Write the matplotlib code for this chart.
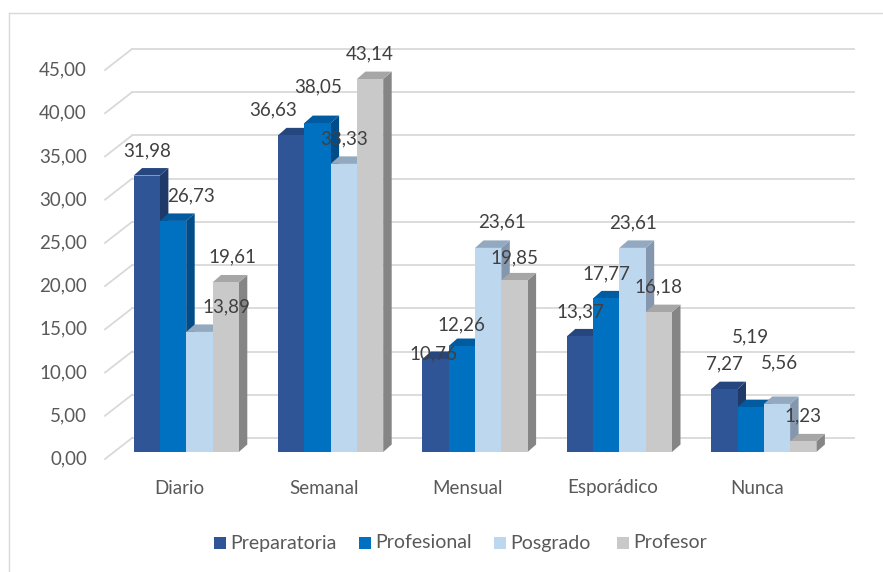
import matplotlib
matplotlib.use("Agg")
import matplotlib.pyplot as plt
from matplotlib.patches import Polygon, Rectangle
from matplotlib.lines import Line2D
import numpy as np

plt.rcParams['font.family'] = ['Lato', 'DejaVu Sans']

categories = ["Diario", "Semanal", "Mensual", "Esporádico", "Nunca"]
series_names = ["Preparatoria", "Profesional", "Posgrado", "Profesor"]
preparatoria = [31.98, 36.63, 10.76, 13.37, 7.27]
profesional = [26.73, 38.05, 12.26, 17.77, 5.19]
posgrado = [13.89, 33.33, 23.61, 23.61, 5.56]
profesor = [19.61, 43.14, 19.85, 16.18, 1.23]
y_ticks = [0, 5, 10, 15, 20, 25, 30, 35, 40, 45]
series = [preparatoria, profesional, posgrado, profesor]

# styles
front_colors = ["#2F5597", "#0070C0", "#BDD7EE", "#C9C9C9"]
top_colors = ["#25467E", "#005BA0", "#93A9BF", "#A6A6A6"]
side_colors = ["#1F3A68", "#004C88", "#8497AE", "#858585"]
# label nudges in pixels (right, up) per series per category
label_nudge = [
    [(0, 0), (-18, 0), (-2, -20), (0, 0), (0, 0)],
    [(18, 0), (1, 11), (0, -4), (0, 0), (0, 45)],
    [(27, 0), (0, 0), (14, 1), (0, 0), (3, 16)],
    [(7, 1), (0, 0), (0, -2), (0, 0), (0, 0)],
]
legend_x = [214, 359, 494, 617]   # pixel x of legend squares

W, H = 883, 572
fig = plt.figure(figsize=(W / 100, H / 100), dpi=100)
fig.patch.set_facecolor("white")

ax_l, ax_r, ax_b, ax_t = 105, 827, 459, 70  # pixel coords (image space)
ax = fig.add_axes([ax_l / W, (H - ax_b) / H, (ax_r - ax_l) / W, (ax_b - ax_t) / H])
ax.set_xlim(-0.5, 4.5)
ax.set_ylim(0, 45)
ax.set_axis_off()

pxx = (ax_r - ax_l) / 5.0      # pixels per x unit
pxy = (ax_b - ax_t) / 45.0     # pixels per y unit

def off(dx_px, dy_px):
    return dx_px / pxx, dy_px / pxy

# back wall gridlines
bdx, bdy = off(27, 21)
for t in y_ticks:
    ax.add_line(Line2D([-0.5, -0.5 + bdx], [t, t + bdy], color="#D9D9D9", lw=1.3,
                       clip_on=False, zorder=1))
    ax.add_line(Line2D([-0.5 + bdx, 4.5 + bdx], [t + bdy, t + bdy], color="#D9D9D9",
                       lw=1.3, clip_on=False, zorder=1))
    ax.text(-0.5 - 18 / pxx, t, f"{t:.2f}".replace(".", ","), ha="right", va="center",
            fontsize=13.5, color="#595959", clip_on=False)

for i, c in enumerate(categories):
    ax.text(i + 2 / pxx, -29 / pxy, c, ha="center", va="center", fontsize=13.5,
            color="#595959", clip_on=False)

# bars
fdx, fdy = off(9, 7)      # front face offset from floor front
ddx, ddy = off(8.5, 7.5)  # bar depth
bw = 26.3 / pxx
n = len(series)
for i in range(len(categories)):
    for j in range(n):
        v = series[j][i]
        x0 = i - n * bw / 2 + j * bw + fdx
        x1 = x0 + bw
        y0 = fdy
        y1 = v + fdy
        side = Polygon([(x1, y0), (x1 + ddx, y0 + ddy), (x1 + ddx, y1 + ddy), (x1, y1)],
                       closed=True, facecolor=side_colors[j], edgecolor="none",
                       clip_on=False, zorder=2)
        top = Polygon([(x0, y1), (x1, y1), (x1 + ddx, y1 + ddy), (x0 + ddx, y1 + ddy)],
                      closed=True, facecolor=top_colors[j], edgecolor="none",
                      clip_on=False, zorder=2)
        front = Rectangle((x0, y0), bw, v, facecolor=front_colors[j], edgecolor="none",
                          clip_on=False, zorder=2)
        ax.add_patch(side)
        ax.add_patch(top)
        ax.add_patch(front)
        nx, ny = label_nudge[j][i]
        lx = x0 + bw / 2 + nx / pxx
        ly = y1 + (25 + ny) / pxy
        ax.text(lx, ly, f"{v:.2f}".replace(".", ","), ha="center", va="center",
                fontsize=13.5, color="#404040", zorder=5, clip_on=False)

# legend (manual, in figure pixels)
ly_px = 543
for x, name, c in zip(legend_x, series_names, front_colors):
    fig.add_artist(Rectangle((x / W, (H - ly_px - 6) / H), 12 / W, 12 / H,
                             transform=fig.transFigure, facecolor=c, edgecolor="none"))
    fig.text((x + 16) / W, (H - ly_px) / H, name, ha="left", va="center",
             fontsize=14, color="#595959")

# chart border (top and left visible)
fig.add_artist(Line2D([9 / W, 1.0], [(H - 13) / H, (H - 13) / H], transform=fig.transFigure,
                      color="#D9D9D9", lw=1.0))
fig.add_artist(Line2D([9 / W, 9 / W], [0, (H - 13) / H], transform=fig.transFigure,
                      color="#D9D9D9", lw=1.0))

fig.savefig("out.png", dpi=100)
